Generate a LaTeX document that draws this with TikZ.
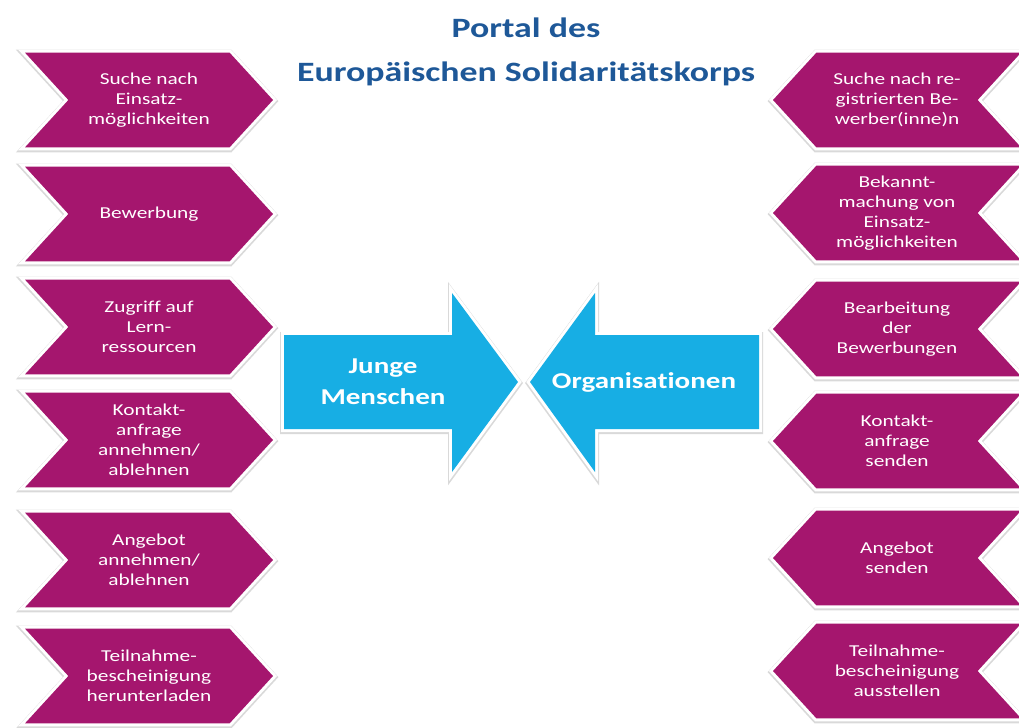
\documentclass[tikz,border=0pt]{standalone}
\usepackage{fontspec}
\usepackage{xcolor}
\usepackage{tikz}
\usetikzlibrary{shapes.symbols, positioning}
\setmainfont{Carlito}
\newfontfamily\portalfont[FakeStretch=1.28, Ligatures=NoCommon]{Carlito}
\definecolor{portalpurple}{RGB}{165, 22, 110}
\definecolor{portalblue}{RGB}{23, 174, 228}
\definecolor{titleblue}{RGB}{30, 88, 152}

\begin{document}
\begin{tikzpicture}[
    x=0.75pt, y=-0.75pt,
    halo/.style={preaction={draw=black!15, line width=6pt, transform canvas={yshift=-0.8pt}}, preaction={draw=white, line width=4.5pt}},
    chev/.style={signal, halo, fill=portalpurple, text=white, minimum width=186pt, minimum height=71pt, signal pointer angle=95, inner sep=0pt, align=center, font=\portalfont\fontsize{12.5}{15}\selectfont},
    lchev/.style={chev, signal to=east, signal from=west},
    rchev/.style={chev, signal to=west, signal from=east},
    bigarrow/.style={halo, fill=portalblue},
    arrowtext/.style={text=white, align=center, font=\portalfont\bfseries\fontsize{17}{23}\selectfont}
]
    \useasboundingbox (0, 0) rectangle (1019, 727);

    % Title
    \node[text=titleblue, align=center, font=\portalfont\bfseries\fontsize{21}{33}\selectfont] (title) at (526, 52) {Portal des\\Europäischen Solidaritätskorps};

    % Young people side
    \node[lchev] (y1) at (149, 100) {Suche nach\\Einsatz-\\möglichkeiten};
    \node[lchev] (y2) at (149, 214) {Bewerbung};
    \node[lchev] (y3) at (149, 327) {Zugriff auf\\Lern-\\ressourcen};
    \node[lchev] (y4) at (149, 440) {Kontakt-\\anfrage\\annehmen/\\ablehnen};
    \node[lchev] (y5) at (149, 560) {Angebot\\annehmen/\\ablehnen};
    \node[lchev] (y6) at (149, 676) {Teilnahme-\\bescheinigung\\herunterladen};

    % Organisation side
    \node[rchev] (o1) at (897, 100) {Suche nach re-\\gistrierten Be-\\werber(inne)n};
    \node[rchev] (o2) at (897, 213) {Bekannt-\\machung von\\Einsatz-\\möglichkeiten};
    \node[rchev] (o3) at (897, 329) {Bearbeitung\\der\\Bewerbungen};
    \node[rchev] (o4) at (897, 441) {Kontakt-\\anfrage\\senden};
    \node[rchev] (o5) at (897, 558) {Angebot\\senden};
    \node[rchev] (o6) at (897, 671) {Teilnahme-\\bescheinigung\\ausstellen};

    % Big arrows
    \path[bigarrow] (284, 335) -- (452, 335) -- (452, 293) -- (518, 382) -- (452, 472) -- (452, 429) -- (284, 429) -- cycle;
    \path[bigarrow] (759, 335) -- (595, 335) -- (595, 293) -- (530, 382) -- (595, 472) -- (595, 429) -- (759, 429) -- cycle;
    \node[arrowtext] (young) at (383, 382) {Junge\\Menschen};
    \node[arrowtext] (orgs) at (644, 382) {Organisationen};

\end{tikzpicture}
\end{document}
